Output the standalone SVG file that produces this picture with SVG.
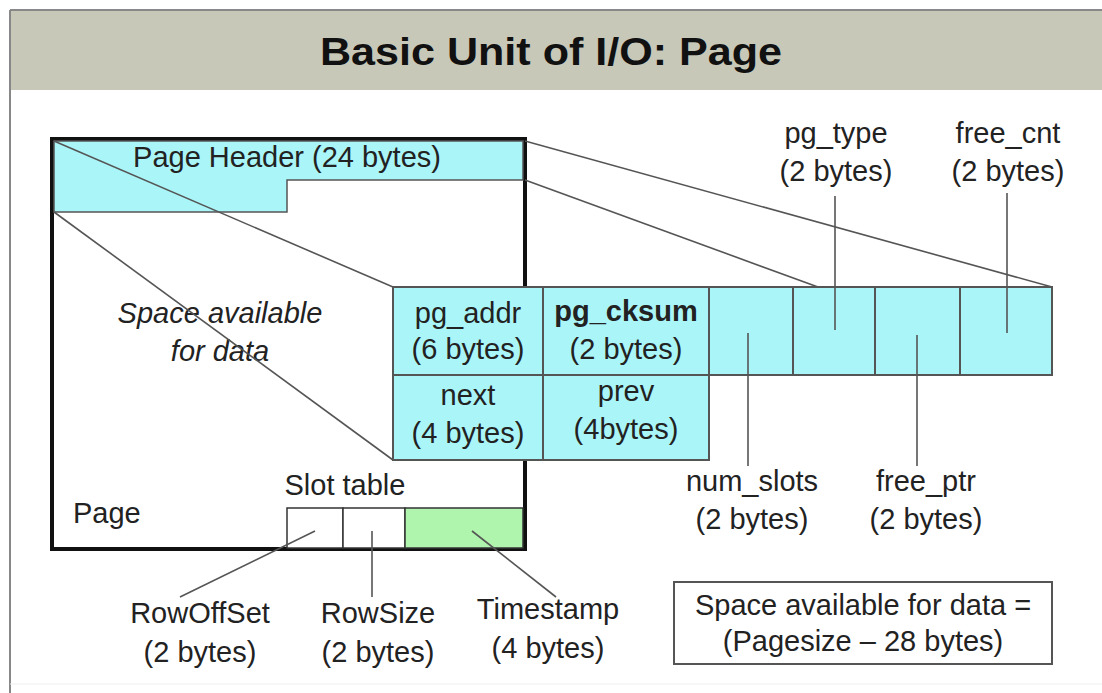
<svg xmlns="http://www.w3.org/2000/svg" width="1102" height="693" viewBox="0 0 1102 693">
<style>
text{font-family:"Liberation Sans",Arial,sans-serif;fill:#222}
.t{font-size:29px;text-anchor:middle}
.cell{fill:#aaf5f8;stroke:#555;stroke-width:2}
.ln{stroke:#555;stroke-width:1.6;fill:none}
</style>
<rect x="0" y="0" width="1102" height="693" fill="#fff"/>
<g id="frame">
<rect x="10" y="11" width="1100" height="79" fill="#c8c8b9"/>
<line x1="10" y1="10" x2="1102" y2="10" stroke="#888" stroke-width="2"/>
<line x1="10" y1="10" x2="10" y2="693" stroke="#888" stroke-width="2"/>
<line x1="10" y1="684" x2="1102" y2="684" stroke="#eee" stroke-width="1"/>
<text x="551" y="65" font-size="38" font-weight="bold" text-anchor="middle" textLength="462" lengthAdjust="spacingAndGlyphs" style="fill:#111">Basic Unit of I/O: Page</text>
</g>
<g id="page">
<rect x="52" y="139" width="473" height="410" fill="#fff" stroke="#111" stroke-width="4"/>
<path d="M54,141 H523 V180 H287 V212 H54 Z" fill="#aaf5f8" stroke="#555" stroke-width="1.5"/>
<text x="287" y="167" class="t">Page Header (24 bytes)</text>
<text x="220" y="323" class="t" font-style="italic">Space available</text>
<text x="220" y="361" class="t" font-style="italic">for data</text>
<text x="73" y="523" font-size="29">Page</text>
<text x="345" y="495" class="t">Slot table</text>
</g>
<g id="slot-table">
<rect x="287" y="508" width="56" height="40" fill="#fff" stroke="#333" stroke-width="1.5"/>
<rect x="343" y="508" width="62" height="40" fill="#fff" stroke="#333" stroke-width="1.5"/>
<rect x="405" y="508" width="118" height="40" fill="#b0f5ad" stroke="#333" stroke-width="1.5"/>
</g>
<g id="connectors">
<line class="ln" x1="54" y1="141" x2="393" y2="287"/>
<line class="ln" x1="54" y1="212" x2="393" y2="460"/>
<line class="ln" x1="525" y1="141" x2="1052" y2="287"/>
<line class="ln" x1="525" y1="180" x2="818" y2="287"/>
<line class="ln" x1="835" y1="196" x2="835" y2="330"/>
<line class="ln" x1="1007" y1="193" x2="1007" y2="333"/>
<line class="ln" x1="748" y1="333" x2="748" y2="466"/>
<line class="ln" x1="917" y1="335" x2="917" y2="466"/>
<line class="ln" x1="315" y1="531" x2="180" y2="597"/>
<line class="ln" x1="372" y1="531" x2="372" y2="597"/>
<line class="ln" x1="472" y1="531" x2="556" y2="597"/>
</g>
<g id="header-detail">
<rect class="cell" x="393" y="287" width="150" height="88"/>
<rect class="cell" x="543" y="287" width="166" height="88"/>
<rect class="cell" x="709" y="287" width="84" height="88"/>
<rect class="cell" x="793" y="287" width="82" height="88"/>
<rect class="cell" x="875" y="287" width="85" height="88"/>
<rect class="cell" x="960" y="287" width="92" height="88"/>
<rect class="cell" x="393" y="375" width="150" height="85"/>
<rect class="cell" x="543" y="375" width="166" height="85"/>
<line class="ln" x1="835" y1="287" x2="835" y2="330"/>
<line class="ln" x1="1007" y1="287" x2="1007" y2="333"/>
<line class="ln" x1="748" y1="333" x2="748" y2="375"/>
<line class="ln" x1="917" y1="335" x2="917" y2="375"/>
<text x="468" y="323" class="t">pg_addr</text>
<text x="468" y="359" class="t">(6 bytes)</text>
<text x="626" y="321" class="t" font-weight="bold" font-size="27">pg_cksum</text>
<text x="626" y="359" class="t">(2 bytes)</text>
<text x="468" y="405" class="t">next</text>
<text x="468" y="443" class="t">(4 bytes)</text>
<text x="626" y="401" class="t">prev</text>
<text x="626" y="439" class="t">(4bytes)</text>
</g>
<g id="labels">
<text x="836" y="143" class="t">pg_type</text>
<text x="836" y="181" class="t">(2 bytes)</text>
<text x="1008" y="143" class="t">free_cnt</text>
<text x="1008" y="181" class="t">(2 bytes)</text>
<text x="752" y="491" class="t">num_slots</text>
<text x="752" y="529" class="t">(2 bytes)</text>
<text x="926" y="491" class="t">free_ptr</text>
<text x="926" y="529" class="t">(2 bytes)</text>
<text x="200" y="623" class="t">RowOffSet</text>
<text x="200" y="662" class="t">(2 bytes)</text>
<text x="378" y="623" class="t">RowSize</text>
<text x="378" y="662" class="t">(2 bytes)</text>
<text x="548" y="619" class="t">Timestamp</text>
<text x="548" y="658" class="t">(4 bytes)</text>
</g>
<g id="formula">
<rect x="674" y="582" width="378" height="82" fill="#fff" stroke="#555" stroke-width="2"/>
<text x="863" y="615" class="t">Space available for data =</text>
<text x="863" y="651" class="t">(Pagesize – 28 bytes)</text>
</g>
</svg>
